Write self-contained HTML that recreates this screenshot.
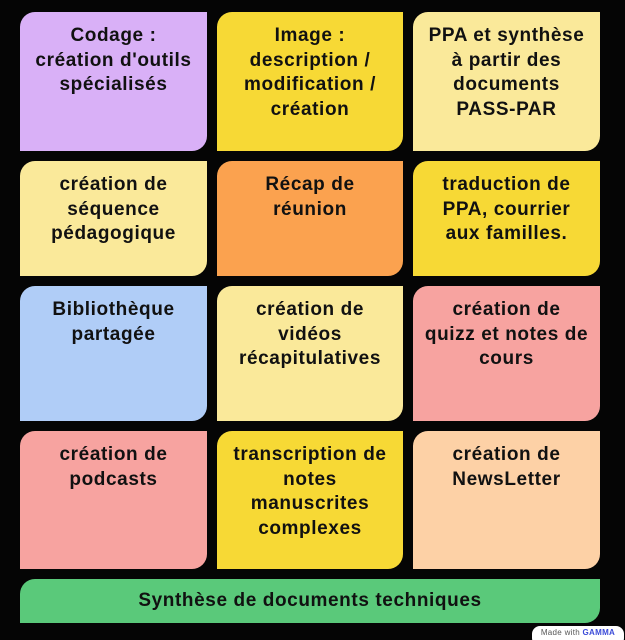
<!DOCTYPE html>
<html><head><meta charset="utf-8"><style>
html,body{margin:0;padding:0;background:#050505;width:625px;height:640px;overflow:hidden;position:relative;font-family:"Liberation Sans",sans-serif}
.c{position:absolute;box-sizing:border-box;border-radius:15px 0 15px 0;text-align:center;font-weight:bold;font-size:19px;letter-spacing:0.6px;line-height:24.5px;color:#111;padding-top:12px;white-space:nowrap}
.badge{position:absolute;left:532px;top:626px;width:92px;height:20px;background:#fff;border-radius:8px;font-size:8px;color:#555;text-align:center;line-height:14px;letter-spacing:0.3px}
.badge b{color:#3b4bd8}
</style></head><body>
<div class="c" style="left:20px;top:12px;width:187px;height:139px;background:#d9b0f7">Codage :<br>création d'outils<br>spécialisés</div>
<div class="c" style="left:217px;top:12px;width:186px;height:139px;background:#f7d935">Image :<br>description /<br>modification /<br>création</div>
<div class="c" style="left:413px;top:12px;width:187px;height:139px;background:#fae99a">PPA et synthèse<br>à partir des<br>documents<br>PASS-PAR</div>

<div class="c" style="left:20px;top:161px;width:187px;height:115px;background:#fae99a">création de<br>séquence<br>pédagogique</div>
<div class="c" style="left:217px;top:161px;width:186px;height:115px;background:#fba24f">Récap de<br>réunion</div>
<div class="c" style="left:413px;top:161px;width:187px;height:115px;background:#f7d935">traduction de<br>PPA, courrier<br>aux familles.</div>

<div class="c" style="left:20px;top:286px;width:187px;height:135px;background:#b0cdf7">Bibliothèque<br>partagée</div>
<div class="c" style="left:217px;top:286px;width:186px;height:135px;background:#fae99a">création de<br>vidéos<br>récapitulatives</div>
<div class="c" style="left:413px;top:286px;width:187px;height:135px;background:#f7a3a0">création de<br>quizz et notes de<br>cours</div>

<div class="c" style="left:20px;top:431px;width:187px;height:138px;background:#f7a3a0">création de<br>podcasts</div>
<div class="c" style="left:217px;top:431px;width:186px;height:138px;background:#f7d935">transcription de<br>notes<br>manuscrites<br>complexes</div>
<div class="c" style="left:413px;top:431px;width:187px;height:138px;background:#fdd1a6">création de<br>NewsLetter</div>

<div class="c" style="left:20px;top:579px;width:580px;height:44px;background:#5ac97a;padding-top:10px">Synthèse de documents techniques</div>
<div class="badge">Made with <b>GAMMA</b></div>
</body></html>
